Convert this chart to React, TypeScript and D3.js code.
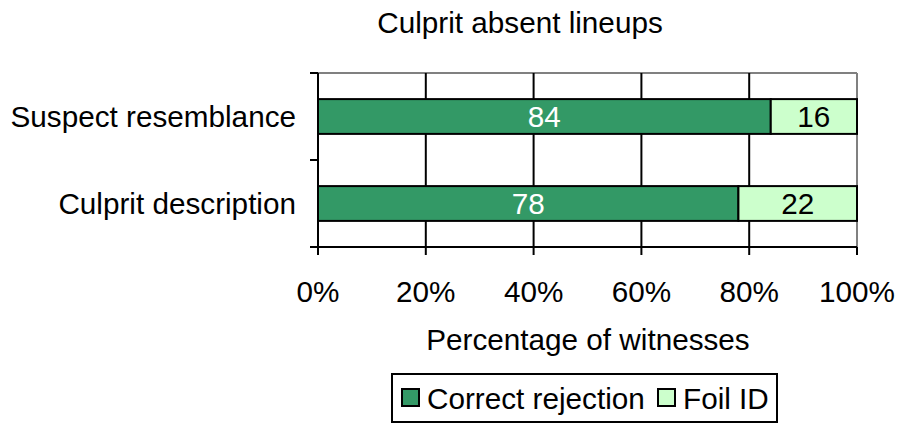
import React, { useRef, useEffect } from "react";
import * as d3 from "d3";

const categories = ["Suspect resemblance", "Culprit description"];
const correctRejection = [84, 78];
const foilID = [16, 22];
const xTicks = [0, 20, 40, 60, 80, 100];
const seriesNames = ["Correct rejection", "Foil ID"];
const seriesColors = ["#339966", "#CCFFCC"];

const App = () => {
  const svgRef = useRef<SVGSVGElement>(null);

  useEffect(() => {
    const svg = d3.select(svgRef.current);
    svg.selectAll("*").remove();
    const font = "Liberation Sans, Arial, sans-serif";
    const fs = 29.7;

    const left = 318;
    const right = 857;
    const top = 73;
    const bottom = 247;

    const x = d3.scaleLinear().domain([0, 100]).range([left, right]);
    const y = d3.scaleBand().domain(categories).range([top, bottom]).paddingInner(0.6).paddingOuter(0.3);

    // title
    svg.append("text").attr("x", 520).attr("y", 33).attr("text-anchor", "middle")
      .attr("font-family", font).attr("font-size", fs).text("Culprit absent lineups");

    // frame
    svg.append("line").attr("x1", left).attr("x2", right).attr("y1", top).attr("y2", top)
      .attr("stroke", "#808080").attr("stroke-width", 2);
    svg.append("line").attr("x1", right).attr("x2", right).attr("y1", top).attr("y2", bottom)
      .attr("stroke", "#808080").attr("stroke-width", 2);

    // gridlines
    svg.append("g").selectAll("line").data(xTicks.slice(1, -1)).enter().append("line")
      .attr("x1", d => x(d)).attr("x2", d => x(d)).attr("y1", top).attr("y2", bottom)
      .attr("stroke", "#000").attr("stroke-width", 2);

    // bars
    const stacks = categories.map((c, i) => [
      { cat: c, x0: 0, x1: correctRejection[i], v: correctRejection[i], s: 0 },
      { cat: c, x0: correctRejection[i], x1: correctRejection[i] + foilID[i], v: foilID[i], s: 1 },
    ]).flat();

    const g = svg.append("g");
    g.selectAll("rect").data(stacks).enter().append("rect")
      .attr("x", d => x(d.x0)).attr("width", d => x(d.x1) - x(d.x0))
      .attr("y", d => y(d.cat)!).attr("height", y.bandwidth())
      .attr("fill", d => seriesColors[d.s]).attr("stroke", "#000").attr("stroke-width", 2);

    g.selectAll("text").data(stacks).enter().append("text")
      .attr("x", d => (x(d.x0) + x(d.x1)) / 2)
      .attr("y", d => y(d.cat)! + y.bandwidth() / 2 + 10)
      .attr("text-anchor", "middle").attr("font-family", font).attr("font-size", fs)
      .attr("fill", d => (d.s === 0 ? "#fff" : "#000"))
      .text(d => d.v);

    // axes
    svg.append("line").attr("x1", left).attr("x2", left).attr("y1", top).attr("y2", bottom)
      .attr("stroke", "#000").attr("stroke-width", 2);
    svg.append("line").attr("x1", left - 8).attr("x2", right).attr("y1", bottom).attr("y2", bottom)
      .attr("stroke", "#000").attr("stroke-width", 2);
    const yBounds = [top, (top + bottom) / 2, bottom];
    svg.append("g").selectAll("line").data(yBounds).enter().append("line")
      .attr("x1", left - 8).attr("x2", left).attr("y1", d => d).attr("y2", d => d)
      .attr("stroke", "#000").attr("stroke-width", 2);
    svg.append("g").selectAll("line").data(xTicks).enter().append("line")
      .attr("x1", d => x(d)).attr("x2", d => x(d)).attr("y1", bottom).attr("y2", bottom + 8)
      .attr("stroke", "#000").attr("stroke-width", 2);

    svg.append("g").selectAll("text").data(xTicks).enter().append("text")
      .attr("x", d => x(d)).attr("y", 302).attr("text-anchor", "middle")
      .attr("font-family", font).attr("font-size", fs).text(d => d + "%");

    svg.append("g").selectAll("text").data(categories).enter().append("text")
      .attr("x", 296).attr("y", d => y(d)! + y.bandwidth() / 2 + 10).attr("text-anchor", "end")
      .attr("font-family", font).attr("font-size", fs).text(d => d);

    svg.append("text").attr("x", 588).attr("y", 350).attr("text-anchor", "middle")
      .attr("font-family", font).attr("font-size", fs).text("Percentage of witnesses");

    // legend
    const lg = svg.append("g");
    lg.append("rect").attr("x", 392).attr("y", 374).attr("width", 385).attr("height", 48)
      .attr("fill", "#fff").attr("stroke", "#000").attr("stroke-width", 2);
    const lx = [402, 658];
    seriesNames.forEach((n, i) => {
      lg.append("rect").attr("x", lx[i]).attr("y", 389).attr("width", 17).attr("height", 17)
        .attr("fill", seriesColors[i]).attr("stroke", "#000").attr("stroke-width", 2);
      lg.append("text").attr("x", lx[i] + 25).attr("y", 409).attr("font-family", font)
        .attr("font-size", fs).text(n);
    });
  }, []);

  return (
    <svg ref={svgRef} width={899} height={423}
      style={{ position: "absolute", left: 0, top: 0, background: "#fff" }} />
  );
};

export default App;
